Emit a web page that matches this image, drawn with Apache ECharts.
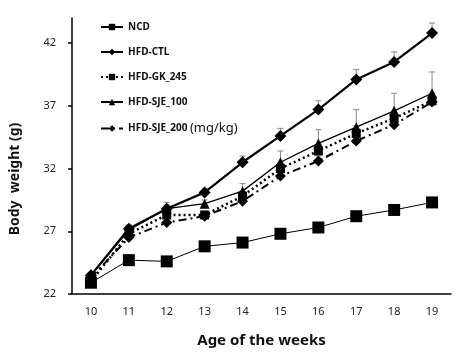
<!DOCTYPE html>
<html>
<head>
<meta charset="utf-8">
<script src="https://cdn.jsdelivr.net/npm/echarts@6/dist/echarts.min.js"></script>
<style>
  html, body { margin: 0; padding: 0; background: #fff; }
  #chart { width: 460px; height: 353px; }
</style>
</head>
<body>
<div id="chart"></div>
<script>
// weeks of age
const weeks = ['10', '11', '12', '13', '14', '15', '16', '17', '18', '19'];
const yTicks = [22, 27, 32, 37, 42];

// mean body weight (g)
const ncd = [22.9, 24.7, 24.6, 25.8, 26.1, 26.8, 27.3, 28.2, 28.7, 29.3];
const hfdCtl = [23.5, 27.2, 28.8, 30.1, 32.5, 34.6, 36.7, 39.1, 40.5, 42.8];
const hfdGk245 = [23.0, 26.8, 28.3, 28.3, 29.8, 32.0, 33.4, 34.8, 36.0, 37.4];
const hfdSje100 = [23.5, 27.1, 28.8, 29.2, 30.2, 32.5, 34.0, 35.3, 36.6, 38.0];
const hfdSje200 = [23.3, 26.5, 27.7, 28.2, 29.4, 31.4, 32.6, 34.2, 35.5, 37.3];

// upper error (SE) per point
const ncdErr = [0.2, 0.2, 0.2, 0.2, 0.2, 0.3, 0.3, 0.3, 0.4, 0.4];
const hfdCtlErr = [0.2, 0.3, 0.3, 0.3, 0.5, 0.6, 0.7, 0.8, 0.8, 0.8];
const hfdGk245Err = [0.2, 0.3, 0.3, 0.3, 0.4, 0.5, 0.5, 0.6, 0.6, 0.6];
const hfdSje100Err = [0.2, 0.3, 0.5, 0.3, 0.6, 0.9, 1.1, 1.4, 1.4, 1.7];
const hfdSje200Err = [0.2, 0.3, 0.3, 0.3, 0.3, 0.4, 0.4, 0.4, 0.4, 0.4];

const chart = echarts.init(document.getElementById('chart'));

function lineSeries(name, data, symbol, size, lineStyle) {
  return {
    type: 'line',
    name,
    data,
    symbol,
    symbolSize: size,
    itemStyle: { color: '#000' },
    lineStyle: Object.assign({ color: '#000' }, lineStyle),
    z: 3,
  };
}

function errorSeries(means, errs) {
  return {
    type: 'custom',
    silent: true,
    z: 2,
    data: means.map((m, i) => [i, m, m + errs[i]]),
    renderItem(params, api) {
      const base = api.coord([api.value(0), api.value(1)]);
      const top = api.coord([api.value(0), api.value(2)]);
      const style = { stroke: '#8a8a80', lineWidth: 1 };
      return {
        type: 'group',
        children: [
          { type: 'line', shape: { x1: base[0], y1: base[1], x2: top[0], y2: top[1] }, style },
          { type: 'line', shape: { x1: top[0] - 3, y1: top[1], x2: top[0] + 3, y2: top[1] }, style },
        ],
      };
    },
  };
}

const fontFamily = '"Noto Sans", "DejaVu Sans", sans-serif';

chart.setOption({
  animation: false,
  backgroundColor: '#fff',
  textStyle: { fontFamily },
  grid: { left: 70, right: 9, top: 18, bottom: 50 },
  legend: {
    orient: 'vertical',
    left: 100,
    top: 22,
    padding: 0,
    itemWidth: 22,
    itemHeight: 8,
    itemGap: 15,
    textStyle: {
      fontFamily,
      fontSize: 10,
      fontWeight: 'bold',
      color: '#111',
      rich: {
        u: { fontFamily, fontSize: 13, fontWeight: 'normal', color: '#111' },
      },
    },
    formatter: (name) => (name === 'HFD-SJE_200' ? name + ' {u|(mg/kg)}' : name),
    data: ['NCD', 'HFD-CTL', 'HFD-GK_245', 'HFD-SJE_100', 'HFD-SJE_200'],
  },
  xAxis: {
    type: 'category',
    data: weeks,
    boundaryGap: true,
    name: 'Age of the weeks',
    nameLocation: 'middle',
    nameGap: 39,
    nameTextStyle: { fontFamily, fontSize: 15, fontWeight: 'bold', color: '#111' },
    axisLine: { lineStyle: { color: '#000', width: 1.5 } },
    axisTick: { length: 4, lineStyle: { color: '#000', width: 1.5 } },
    axisLabel: { fontSize: 11, color: '#222', margin: 12 },
  },
  yAxis: {
    type: 'value',
    min: 22,
    max: 44,
    name: 'Body  weight (g)',
    nameLocation: 'middle',
    nameGap: 50,
    nameRotate: 90,
    nameTextStyle: {
      fontFamily, fontSize: 14, fontWeight: 'bold', color: '#111',
      padding: [0, 46, 0, 0],
    },
    splitLine: { show: false },
    axisLine: { show: true, lineStyle: { color: '#000', width: 1.5 } },
    axisTick: { show: true, length: 4, customValues: yTicks, lineStyle: { color: '#000', width: 1.5 } },
    axisLabel: { fontSize: 11, color: '#222', margin: 16, customValues: yTicks },
  },
  series: [
    errorSeries(ncd, ncdErr),
    errorSeries(hfdCtl, hfdCtlErr),
    errorSeries(hfdGk245, hfdGk245Err),
    errorSeries(hfdSje100, hfdSje100Err),
    errorSeries(hfdSje200, hfdSje200Err),
    lineSeries('NCD', ncd, 'rect', 12, { width: 1 }),
    lineSeries('HFD-CTL', hfdCtl, 'diamond', 12, { width: 2.2 }),
    lineSeries('HFD-GK_245', hfdGk245, 'rect', 9, { width: 2.5, type: [2, 3] }),
    lineSeries('HFD-SJE_100', hfdSje100, 'triangle', 10, { width: 1.3 }),
    lineSeries('HFD-SJE_200', hfdSje200, 'diamond', 11, { width: 2, type: [8, 4, 2, 4] }),
  ],
});
</script>
</body>
</html>
